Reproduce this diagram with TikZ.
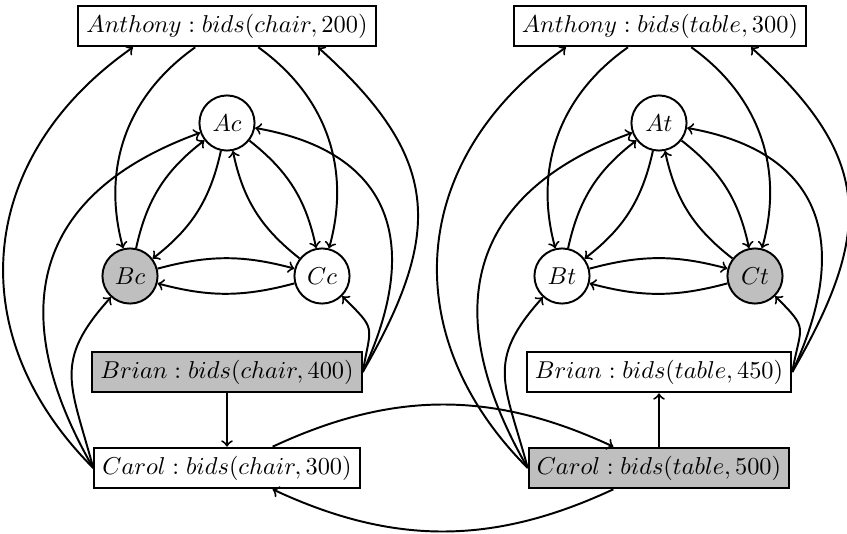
\documentclass[tikz,border=0pt]{standalone}
\usetikzlibrary{calc}
\definecolor{winGray}{gray}{0.75}
\tikzset{
  agent/.style={
    circle,
    draw,
    minimum size=22.6pt,
    inner sep=0pt
  },
  bid/.style={
    rectangle,
    draw,
    minimum height=16pt,
    inner sep=3.33pt
  },
  winner/.style={fill=winGray}
}

\begin{document}
\begin{tikzpicture}[x=0.41pt, y=0.41pt, thick]
  \useasboundingbox (0,0) rectangle (847,533);
  % chair auction
  \node[bid] (anthonyc) at (227,507) {$Anthony : bids(chair, 200)$};
  \node[agent] (Ac) at (227,410) {$Ac$};
  \node[agent, winner] (Bc) at (130,257) {$Bc$};
  \node[agent] (Cc) at (322,257) {$Cc$};
  \node[bid, winner] (brianc) at (227,161) {$Brian : bids(chair, 400)$};
  \node[bid] (carolc) at (227,65) {$Carol : bids(chair, 300)$};
  % table auction
  \node[bid] (anthonyt) at (660,507) {$Anthony : bids(table, 300)$};
  \node[agent] (At) at (659,410) {$At$};
  \node[agent] (Bt) at (562,257) {$Bt$};
  \node[agent, winner] (Ct) at (755,257) {$Ct$};
  \node[bid] (briant) at (659,161) {$Brian : bids(table, 450)$};
  \node[bid, winner] (carolt) at (659,65) {$Carol : bids(table, 500)$};
  \foreach \s in {c, t}{
    \draw[->] (A\s) to[bend left=20] (B\s);
    \draw[->] (B\s) to[bend left=20] (A\s);
    \draw[->] (A\s) to[bend left=20] (C\s);
    \draw[->] (C\s) to[bend left=20] (A\s);
    \draw[->] (B\s) to[bend left=15] (C\s);
    \draw[->] (C\s) to[bend left=15] (B\s);
    \draw[->] (anthony\s) to[bend right=35] (B\s);
    \draw[->] (anthony\s) to[bend left=35] (C\s);
    \draw[->] (carol\s.west) to[out=135, in=215, looseness=1.15]
      ($(anthony\s.south)+(-94,0)$);
    \draw[->] (carol\s.west) to[out=120, in=200, looseness=1.3] (A\s);
    \draw[->] (carol\s.west) to[out=105, in=228, looseness=1.3] (B\s);
    \draw[->] (brian\s.east) to[out=60, in=318, looseness=1.28]
      ($(anthony\s.south)+(91,0)$);
    \draw[->] (brian\s.east) to[out=65, in=350, looseness=1.35] (A\s);
    \draw[->] (brian\s.east) to[out=80, in=-45, looseness=1.6] (C\s);
  }
  \draw[->] (brianc) -- (carolc);
  \draw[->] (carolt) -- (briant);
  \draw[->] (carolc) to[bend left=25] (carolt);
  \draw[->] (carolt) to[bend left=25] (carolc);
\end{tikzpicture}
\end{document}
